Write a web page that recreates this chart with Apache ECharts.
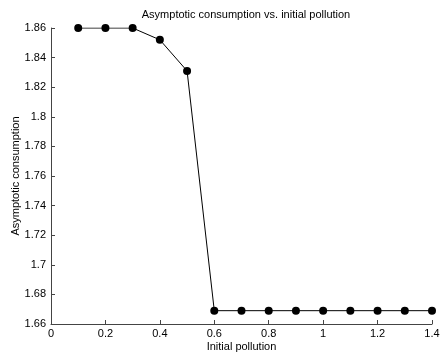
<!DOCTYPE html>
<html><head><meta charset="utf-8">
<script src="https://cdn.jsdelivr.net/npm/echarts@6/dist/echarts.min.js"></script>
<style>html,body{margin:0;padding:0;background:#fff}#c{width:441px;height:357px}</style>
</head><body><div id="c"></div>
<script>
const pollution = [0.1,0.2,0.3,0.4,0.5,0.6,0.7,0.8,0.9,1.0,1.1,1.2,1.3,1.4];
const consumption = [1.86,1.86,1.86,1.852,1.831,1.669,1.669,1.669,1.669,1.669,1.669,1.669,1.669,1.669];
const titleText = 'Asymptotic consumption vs. initial pollution';
const xName = 'Initial pollution';
const yName = 'Asymptotic consumption';
const font = 'Liberation Sans, Arial, Helvetica, sans-serif';
const chart = echarts.init(document.getElementById('c'));
chart.setOption({
  animation:false,
  title:{text:titleText,left:241,top:4,textAlign:'center',textStyle:{fontSize:11,fontWeight:'normal',color:'#000',fontFamily:font}},
  grid:{left:51,right:9,top:28,bottom:33,containLabel:false,outerBoundsMode:'none'},
  xAxis:{type:'value',min:0,max:1.4,interval:0.2,name:xName,nameLocation:'middle',nameGap:17,nameMoveOverlap:false,
    nameTextStyle:{fontSize:11,color:'#000',fontFamily:font},
    axisLine:{lineStyle:{color:'#444',width:1}},axisTick:{inside:true,length:4,lineStyle:{color:'#444'}},
    axisLabel:{fontSize:11,color:'#000',fontFamily:font,margin:4},splitLine:{show:false}},
  yAxis:{type:'value',min:1.66,max:1.86,interval:0.02,name:yName,nameLocation:'middle',nameGap:30,nameMoveOverlap:false,
    nameTextStyle:{fontSize:11,color:'#000',fontFamily:font},
    axisLine:{show:true,lineStyle:{color:'#444',width:1}},axisTick:{show:true,inside:true,length:4,lineStyle:{color:'#444'}},
    axisLabel:{fontSize:11,color:'#000',fontFamily:font,margin:5},splitLine:{show:false}},
  series:[{type:'line',data:pollution.map((x,i)=>[x,consumption[i]]),symbol:'circle',symbolSize:8,
    lineStyle:{color:'#000',width:1},itemStyle:{color:'#000'}}]
});
</script></body></html>
